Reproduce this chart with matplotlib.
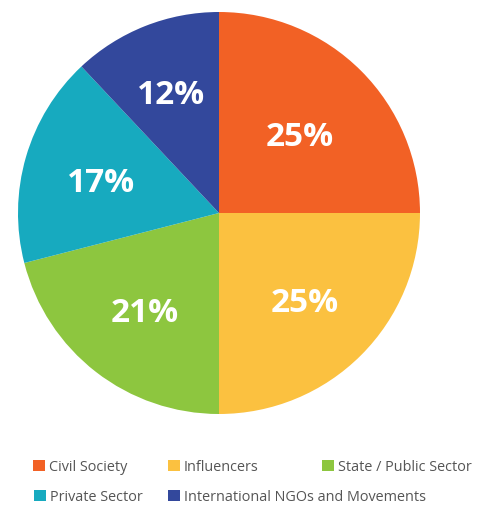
import numpy as np
import matplotlib.pyplot as plt
from matplotlib.patches import Rectangle

# data
labels = ['Civil Society', 'Influencers', 'State / Public Sector',
          'Private Sector', 'International NGOs and Movements']
shares = [25, 25, 21, 17, 12]
colors = ['#F26125', '#FBC140', '#8DC63F', '#17AABF', '#33489C']

# how far out each percentage label sits (fraction of radius)
label_dist = [0.565, 0.60, 0.60, 0.61, 0.655]

# legend rows (flow layout like the original)
legend_rows = [[0, 1, 2], [3, 4]]
legend_x = [[33, 168, 322], [34, 168]]
legend_y = [466, 496]

W, H = 481, 506
fig = plt.figure(figsize=(W / 100, H / 100), dpi=100)

cx, cy, r = 219, 214, 201
ax = fig.add_axes([(cx - r) / W, (H - cy - r) / H, 2 * r / W, 2 * r / H])
wedges, texts, autotexts = ax.pie(
    shares, colors=colors, startangle=90, counterclock=False,
    autopct='%d%%', pctdistance=0.6, radius=1,
    wedgeprops=dict(linewidth=0),
    textprops=dict(color='white', fontsize=24, fontweight='bold', family='Open Sans'))
for w, t, d in zip(wedges, autotexts, label_dist):
    ang = np.deg2rad((w.theta1 + w.theta2) / 2)
    t.set_position((d * np.cos(ang), d * np.sin(ang)))
    t.set_va('center_baseline')
ax.set_xlim(-1, 1)
ax.set_ylim(-1, 1)
ax.set_aspect('auto')
ax.axis('off')

for row, xs, y in zip(legend_rows, legend_x, legend_y):
    for idx, x in zip(row, xs):
        fig.add_artist(Rectangle((x / W, (H - y - 6) / H), 12 / W, 11 / H,
                                 transform=fig.transFigure, color=colors[idx], lw=0))
        fig.text((x + 16) / W, (H - y) / H, labels[idx], fontsize=10.4,
                 color='#555555', va='center_baseline', ha='left', family='Open Sans')

fig.savefig('out.png', dpi=100)
